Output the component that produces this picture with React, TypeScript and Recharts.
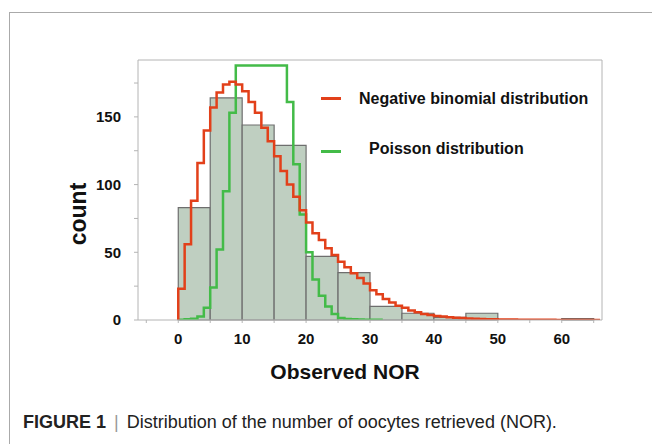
import React from "react";
import {
  ComposedChart, Line, XAxis, YAxis, ReferenceArea, ReferenceLine,
} from "recharts";

// histogram bins (width 5)
const binStarts = [0, 5, 10, 15, 20, 25, 30, 35, 40, 45, 50, 55, 60];
const binCounts = [83, 164, 144, 129, 47, 35, 10, 5, 2, 5, 0, 0, 1];

// fitted curves, one value per integer NOR (step from k to k+1)
const negBinomial = [
  23, 56, 88, 116, 140, 157, 168, 174, 176, 174,
  169, 161, 153, 142, 132, 121, 110, 100, 91, 81,
  72, 64, 59, 53, 48, 43, 39, 34.5, 31, 27,
  22, 19, 15.5, 13, 10.6, 9, 7, 5.7, 4.5, 3.7,
  3, 2.5, 2, 1.7, 1.4, 1.1, 0.9, 0.8, 0.6, 0.5,
  0.4, 0.35, 0.3, 0.25, 0.2, 0.17, 0.14, 0.12, 0.1, 0.08,
  0.07, 0.06, 0.05, 0.04, 0.03, 0.03,
];
const poisson = [
  0.2, 0.5, 1, 2.5, 9, 24, 52, 95, 153, 188,
  188, 188, 188, 188, 188, 188, 188, 161, 115, 78,
  50, 30, 18, 10, 4.5, 1.5, 0.8, 0.5, 0.3, 0.2,
  0.15, 0.1,
];

const xTicks = [-5, 0, 5, 10, 15, 20, 25, 30, 35, 40, 45, 50, 55, 60, 65];
const yTicks = [0, 25, 50, 75, 100, 125, 150, 175];

const X_MIN = -6.3;
const X_MAX = 66.3;
const Y_MAX = 192;

const RED = "#e2401a";
const GREEN = "#43bb48";
const AXIS = "#b4b4b4";
const FONT = "'Liberation Sans', Arial, sans-serif";

function toSteps(values: number[], startAtZero: boolean) {
  const pts = values.map((y, i) => ({ x: i, y }));
  if (startAtZero) pts.unshift({ x: 0, y: 0 });
  pts.push({ x: values.length, y: values[values.length - 1] });
  return pts;
}

const redData = toSteps(negBinomial, true);
const greenData = toSteps(poisson, false);

export default function App() {
  const tickStyle = { fill: "#111", fontSize: 15, fontWeight: 700, fontFamily: FONT };

  return (
    <div style={{
      position: "absolute", left: 0, top: 0, width: 652, height: 444,
      background: "#fff", fontFamily: FONT, overflow: "hidden",
    }}>
      {/* card border */}
      <div style={{
        position: "absolute", left: 9, top: 12, width: 660, height: 460,
        borderTop: "1px solid #aaa", borderLeft: "1px solid #aaa",
      }} />

      <div style={{ position: "absolute", left: 0, top: 0 }}>
        <ComposedChart
          width={652}
          height={444}
          margin={{ top: 60, right: 50, bottom: 94, left: 78 }}
        >
          <XAxis
            type="number"
            dataKey="x"
            domain={[X_MIN, X_MAX]}
            allowDataOverflow
            ticks={xTicks}
            interval={0}
            tickFormatter={(v: number) => (v >= 0 && v % 10 === 0 ? String(v) : "")}
            tick={tickStyle}
            stroke={AXIS}
            tickSize={3}
            tickMargin={10}
            height={30}
          />
          <YAxis
            type="number"
            domain={[0, Y_MAX]}
            allowDataOverflow
            ticks={yTicks}
            interval={0}
            tickFormatter={(v: number) => (v % 50 === 0 ? String(v) : "")}
            tick={tickStyle}
            stroke={AXIS}
            tickSize={4}
            tickMargin={13}
            width={60}
          />
          <ReferenceLine y={Y_MAX} stroke={AXIS} strokeWidth={1} />
          <ReferenceLine x={X_MAX} stroke={AXIS} strokeWidth={1} />

          {binStarts.map((s, i) =>
            binCounts[i] > 0 ? (
              <ReferenceArea
                key={s}
                x1={s}
                x2={s + 5}
                y1={0}
                y2={binCounts[i]}
                fill="#bfcfc1"
                fillOpacity={1}
                stroke="#6e6e6e"
                strokeWidth={1.2}
              />
            ) : null
          )}

          <Line
            data={greenData}
            dataKey="y"
            type="stepAfter"
            stroke={GREEN}
            strokeWidth={2.5}
            dot={false}
            isAnimationActive={false}
          />
          <Line
            data={redData}
            dataKey="y"
            type="stepAfter"
            stroke={RED}
            strokeWidth={2.5}
            dot={false}
            isAnimationActive={false}
          />
        </ComposedChart>
      </div>

      {/* legend */}
      <div style={{ position: "absolute", left: 321, top: 97, width: 20, height: 2.5, background: RED }} />
      <div style={{
        position: "absolute", left: 359, top: 89, fontSize: 16, fontWeight: 700, color: "#111",
        whiteSpace: "nowrap", lineHeight: "20px",
      }}>
        Negative binomial distribution
      </div>
      <div style={{ position: "absolute", left: 321, top: 150, width: 20, height: 2.5, background: GREEN }} />
      <div style={{
        position: "absolute", left: 369, top: 139, fontSize: 16, fontWeight: 700, color: "#111",
        whiteSpace: "nowrap", lineHeight: "20px",
      }}>
        Poisson distribution
      </div>

      {/* axis titles */}
      <div style={{
        position: "absolute", left: 245, width: 200, top: 360, textAlign: "center",
        fontSize: 21, fontWeight: 700, color: "#111", lineHeight: "24px",
      }}>
        Observed NOR
      </div>
      <div style={{
        position: "absolute", left: 78, top: 214, transform: "translate(-50%, -50%) rotate(-90deg)",
        fontSize: 23, fontWeight: 700, color: "#111", whiteSpace: "nowrap", lineHeight: "26px",
      }}>
        count
      </div>

      {/* caption */}
      <div style={{
        position: "absolute", left: 23, top: 412, fontSize: 18, color: "#222",
        whiteSpace: "nowrap", lineHeight: "20px",
      }}>
        <span style={{ fontWeight: 700 }}>FIGURE 1</span>
        <span style={{ color: "#999", margin: "0 8px" }}>|</span>
        Distribution of the number of oocytes retrieved (NOR).
      </div>
    </div>
  );
}
